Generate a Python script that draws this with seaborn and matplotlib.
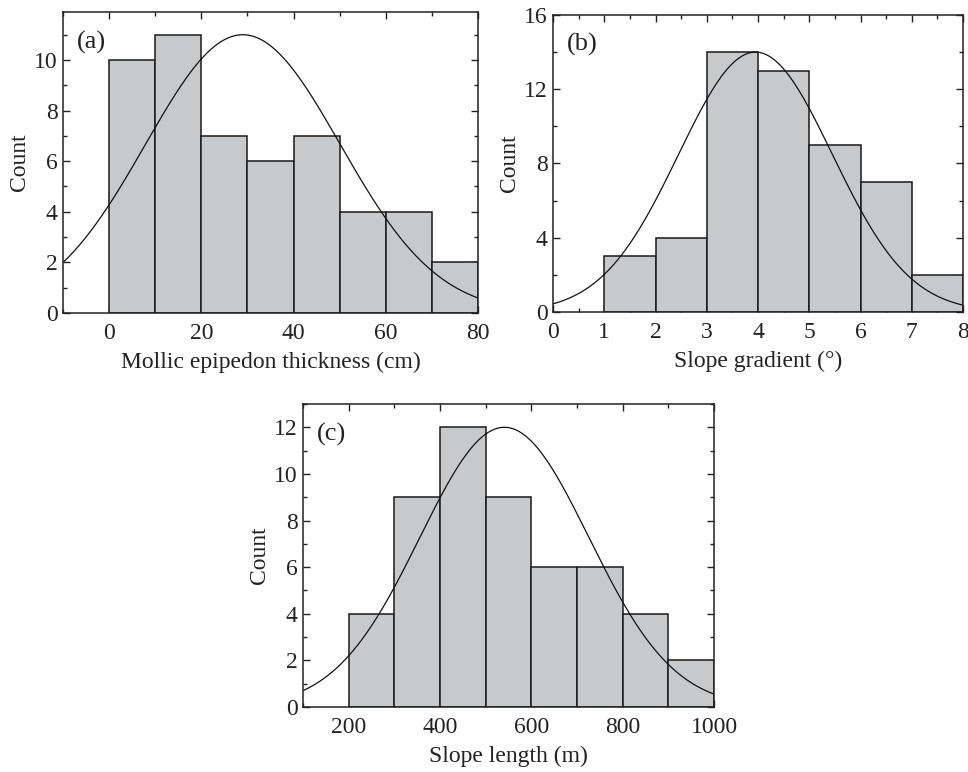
import numpy as np
import pandas as pd
import seaborn as sns
import matplotlib.pyplot as plt
from matplotlib.ticker import MultipleLocator

# Histogram data (bin edges and counts)
thick_edges = [0, 10, 20, 30, 40, 50, 60, 70, 80]
thick_counts = [10, 11, 7, 6, 7, 4, 4, 2]

grad_edges = [1, 2, 3, 4, 5, 6, 7, 8]
grad_counts = [3, 4, 14, 13, 9, 7, 2]

length_edges = [200, 300, 400, 500, 600, 700, 800, 900, 1000]
length_counts = [4, 9, 12, 9, 6, 6, 4, 2]

# Normal curve overlays (mean, sd, peak height)
thick_curve = (29.0, 21.1, 11.0)
grad_curve = (3.95, 1.50, 14.0)
length_curve = (541.0, 185.0, 12.0)

sns.set_style("ticks")
plt.rcParams["font.family"] = "serif"
plt.rcParams["font.serif"] = ["Liberation Serif"]
plt.rcParams["text.color"] = "#222222"
plt.rcParams["axes.labelcolor"] = "#222222"
plt.rcParams["xtick.color"] = "#222222"
plt.rcParams["ytick.color"] = "#222222"

FS = 17

fig = plt.figure(figsize=(9.68, 7.72), dpi=100)

panels = [
    dict(rect=[0.0651, 0.5946, 0.4287, 0.3899], edges=thick_edges, counts=thick_counts,
         curve=thick_curve, xlim=(-10, 80), ylim=(0, 11.9), xmaj=20, xmin=10, ymaj=2, ymin=1,
         xlabel="Mollic epipedon thickness (cm)", tag="(a)"),
    dict(rect=[0.5713, 0.5959, 0.4236, 0.3847], edges=grad_edges, counts=grad_counts,
         curve=grad_curve, xlim=(0, 8), ylim=(0, 16), xmaj=1, xmin=0.5, ymaj=4, ymin=2,
         xlabel="Slope gradient (°)", tag="(b)"),
    dict(rect=[0.3130, 0.0842, 0.4246, 0.3925], edges=length_edges, counts=length_counts,
         curve=length_curve, xlim=(100, 1000), ylim=(0, 13), xmaj=200, xmin=100, ymaj=2, ymin=1,
         xlabel="Slope length (m)", tag="(c)"),
]

for p in panels:
    ax = fig.add_axes(p["rect"])
    edges = list(p["edges"])
    centers = [(a + b) / 2 for a, b in zip(edges[:-1], edges[1:])]
    df = pd.DataFrame({"x": centers, "n": p["counts"]})
    sns.histplot(data=df, x="x", weights="n", bins=edges, ax=ax,
                 color="#c8c9cb", edgecolor="#1a1a1a", linewidth=1.1, alpha=1)

    mu, sd, peak = p["curve"]
    xs = np.linspace(p["xlim"][0], p["xlim"][1], 400)
    ys = peak * np.exp(-(xs - mu) ** 2 / (2 * sd ** 2))
    sns.lineplot(x=xs, y=ys, ax=ax, color="#111111", linewidth=0.9)

    ax.set_xlim(*p["xlim"])
    ax.set_ylim(*p["ylim"])
    ax.xaxis.set_major_locator(MultipleLocator(p["xmaj"]))
    ax.xaxis.set_minor_locator(MultipleLocator(p["xmin"]))
    ax.yaxis.set_major_locator(MultipleLocator(p["ymaj"]))
    ax.yaxis.set_minor_locator(MultipleLocator(p["ymin"]))
    ax.tick_params(which="both", direction="in", top=True, right=True,
                   labelsize=FS, width=1)
    ax.tick_params(axis="x", pad=7)
    ax.tick_params(axis="y", pad=4)
    ax.tick_params(which="major", length=5)
    ax.tick_params(which="minor", length=3)
    for s in ax.spines.values():
        s.set_linewidth(1.1)
        s.set_color("#222222")

    ax.set_xlabel(p["xlabel"], fontsize=FS, labelpad=6)
    ax.set_ylabel("Count", fontsize=FS, labelpad=3)
    ax.text(0.034, 0.90, p["tag"], transform=ax.transAxes, fontsize=19,
            ha="left", va="center")

plt.savefig("out.png", dpi=100)
